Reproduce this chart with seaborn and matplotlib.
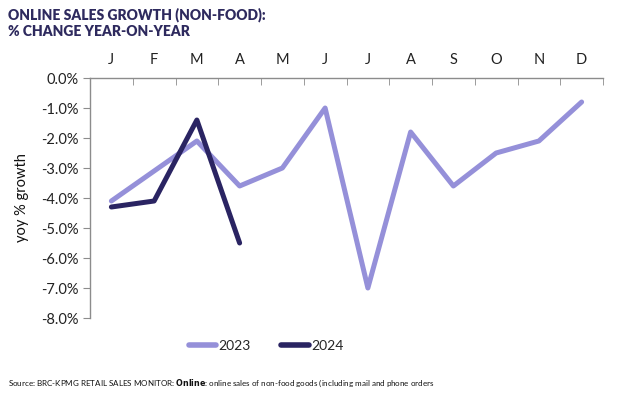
import pandas as pd
import matplotlib.pyplot as plt
import seaborn as sns
import numpy as np
from matplotlib.ticker import FixedLocator, FuncFormatter

# Data
months = ['J', 'F', 'M', 'A', 'M', 'J', 'J', 'A', 'S', 'O', 'N', 'D']
growth_2023 = [-4.1, -3.1, -2.1, -3.6, -3.0, -1.0, -7.0, -1.8, -3.6, -2.5, -2.1, -0.8]
growth_2024 = [-4.3, -4.1, -1.4, -5.5]
years = ['2023', '2024']
colors = {'2023': '#9590d9', '2024': '#2a2462'}

# Long-format table for seaborn
df = pd.concat([
    pd.DataFrame({'month': np.arange(len(growth_2023)), 'growth': growth_2023, 'year': '2023'}),
    pd.DataFrame({'month': np.arange(len(growth_2024)), 'growth': growth_2024, 'year': '2024'}),
])

sns.set_style('white')
plt.rcParams['font.family'] = ['Lato', 'DejaVu Sans']

fig = plt.figure(figsize=(6.26, 3.99), dpi=100)
ax = fig.add_axes([90 / 626, 1 - 318 / 399, 513 / 626, 240 / 399])

sns.lineplot(data=df, x='month', y='growth', hue='year', palette=colors,
             hue_order=years, linewidth=3.6, sort=False, ax=ax, legend=False)

ax.set_xlim(-0.5, 11.5)
ax.set_ylim(-8, 0)

# month labels on top, no tick marks; boundary ticks pointing down
ax.xaxis.tick_top()
ax.set_xticks(np.arange(12))
ax.set_xticklabels(months, fontsize=10.5, color='#222222')
ax.tick_params(axis='x', which='major', length=0, pad=8)
ax.xaxis.set_minor_locator(FixedLocator(np.arange(-0.5, 12, 1)))
ax.tick_params(axis='x', which='minor', direction='in', length=5, color='#8c8c8c', top=True, bottom=False)
ax.set_xlabel('')

ax.set_yticks(np.arange(-8, 0.5, 1))
ax.yaxis.set_major_formatter(FuncFormatter(lambda v, p: f'{v:.1f}%'))
ax.tick_params(axis='y', length=5, direction='out', color='#8c8c8c', labelsize=10.5,
               labelcolor='#222222', left=True, pad=3)
ax.set_ylabel('yoy % growth', fontsize=10.5, color='#111111', labelpad=9)

for side in ['right', 'bottom']:
    ax.spines[side].set_visible(False)
for side in ['top', 'left']:
    ax.spines[side].set_color('#8c8c8c')
    ax.spines[side].set_linewidth(1)

# legend
handles = [plt.Line2D([0], [0], color=colors[y], lw=4, solid_capstyle='round') for y in years]
fig.legend(handles, years, loc='center', bbox_to_anchor=(266 / 626, 1 - 346 / 399), ncol=2,
           frameon=False, fontsize=10, handlelength=2.0, handletextpad=0.15, columnspacing=2.2)

# title
fig.text(8 / 626, 1 - 15 / 399, 'ONLINE SALES GROWTH (NON-FOOD):', fontsize=10, fontweight='heavy',
         color='#2e2a5e', va='center', ha='left')
fig.text(8 / 626, 1 - 32 / 399, '% CHANGE YEAR-ON-YEAR', fontsize=10, fontweight='heavy',
         color='#2e2a5e', va='center', ha='left')

# source line
fig.text(8 / 626, 1 - 383 / 399,
         'Source: BRC-KPMG RETAIL SALES MONITOR: $\\bf{Online}$: online sales of non-food goods (including mail and phone orders',
         fontsize=5.8, color='#111111', va='center', ha='left')

fig.savefig('out.png', dpi=100)
